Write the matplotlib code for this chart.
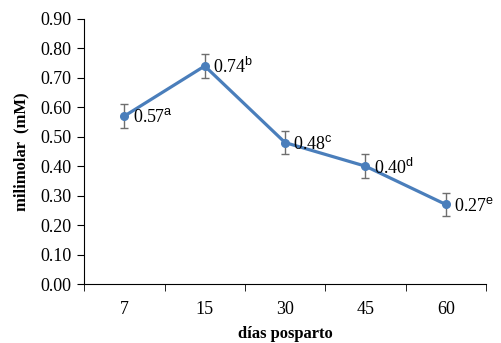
import matplotlib.pyplot as plt
import numpy as np

plt.rcParams['font.family'] = ['Liberation Serif', 'DejaVu Serif']
plt.rcParams['mathtext.fontset'] = 'custom'
plt.rcParams['mathtext.rm'] = 'Liberation Serif'
plt.rcParams['mathtext.sf'] = 'Liberation Sans'

dias = ['7', '15', '30', '45', '60']
valores = [0.57, 0.74, 0.48, 0.40, 0.27]
errores = [0.04, 0.04, 0.04, 0.04, 0.04]
letras = ['a', 'b', 'c', 'd', 'e']

fig = plt.figure(figsize=(5.01, 3.43), dpi=100)
ax = fig.add_axes([0.168, 0.172, 0.802, 0.773])

x = np.arange(len(dias))
ax.errorbar(x, valores, yerr=errores, color='#4a7ebb', lw=2.3, marker='o', ms=5.5,
            ecolor='#6e6e6e', elinewidth=1, capsize=3, capthick=1)
for xi, v, l in zip(x, valores, letras):
    ax.annotate('$\\mathrm{%.2f}^{\\mathsf{%s}}$' % (v, l), (xi, v), xytext=(6, -1),
                textcoords='offset points', va='center', ha='left', fontsize=13)

ax.set_xlim(-0.5, len(dias) - 0.5)
ax.set_ylim(0, 0.9)
ax.set_yticks(np.arange(0, 0.91, 0.1))
ax.set_yticklabels(['%.2f' % t for t in np.arange(0, 0.91, 0.1)])
ax.set_xticks(x)
ax.set_xticklabels(dias)
ax.set_xticks(np.arange(-0.5, len(dias), 1), minor=True)
ax.tick_params(axis='x', which='major', length=0, pad=12)
ax.tick_params(axis='x', which='minor', length=5, direction='out')
ax.tick_params(axis='y', length=5, direction='out', pad=4)
ax.tick_params(labelsize=13)
for s in ['top', 'right']:
    ax.spines[s].set_visible(False)

ax.set_xlabel('días posparto', fontweight='bold', fontsize=12, labelpad=6)
ax.set_ylabel('milimolar  (mM)', fontweight='bold', fontsize=12, labelpad=8)

fig.savefig('out.png', dpi=100)
